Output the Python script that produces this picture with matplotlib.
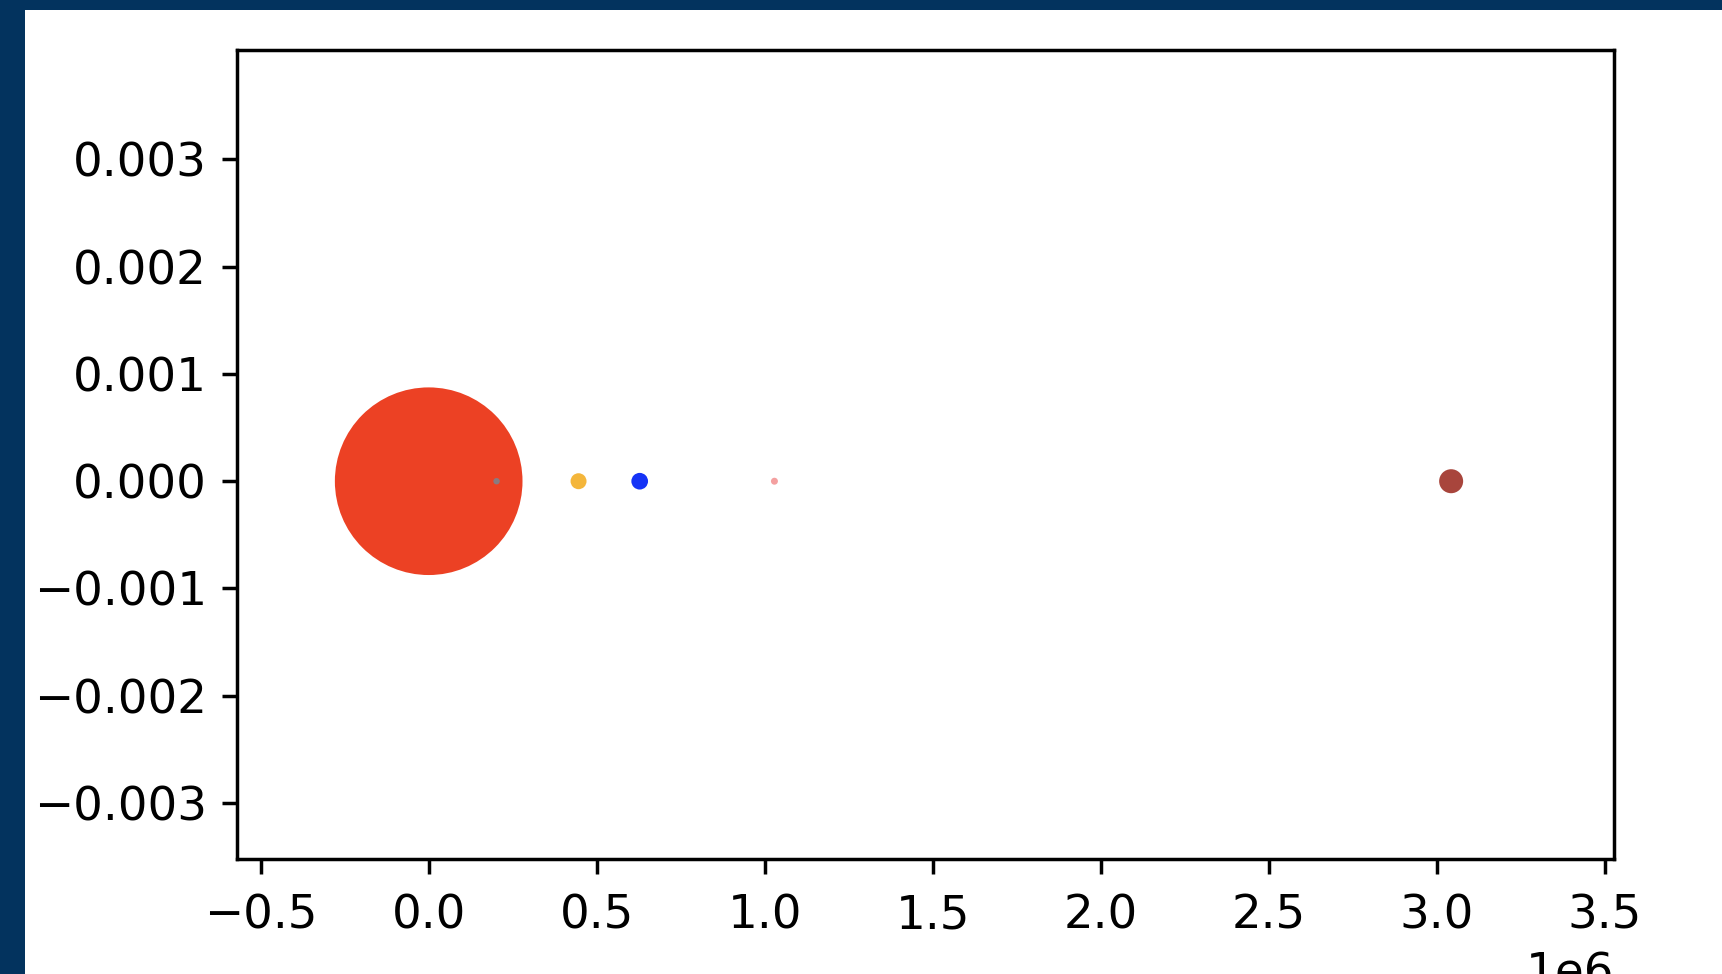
import numpy as np
import matplotlib
matplotlib.use('Agg')
import matplotlib.pyplot as plt
from matplotlib.patches import Rectangle

# bodies placed along the x axis (distance, in units of 1e6)
names = ['Sun', 'Mercury', 'Venus', 'Earth', 'Mars', 'Jupiter']
distance = [0.0, 0.202e6, 0.446e6, 0.628e6, 1.029e6, 3.043e6]
height = [0, 0, 0, 0, 0, 0]
marker_size = [1875, 2.2, 13.6, 14.8, 2.6, 30.7]
colours = ['#ec4124', '#8a7a80', '#f4b63b', '#1533f6', '#f4a0a0', '#a8453c']

plt.rcParams['font.size'] = 10.8

dpi = 312
fig = plt.figure(figsize=(1722 / dpi, 974 / dpi), dpi=dpi, facecolor='white')

# dark frame from the screenshot, top and left edges
navy = '#03335e'
fig.patches.append(Rectangle((0, 1 - 10 / 974), 1, 10 / 974, transform=fig.transFigure,
                             facecolor=navy, edgecolor='none', zorder=10))
fig.patches.append(Rectangle((0, 0), 25 / 1722, 1, transform=fig.transFigure,
                             facecolor=navy, edgecolor='none', zorder=10))

ax = fig.add_axes([237.3 / 1722, 1 - 858.8 / 974, (1614.3 - 237.3) / 1722, (858.8 - 50) / 974])
ax.scatter(distance, height, s=marker_size, c=colours, linewidths=0)

ax.set_xlim(-0.5696e6, 3.5286e6)
ax.set_ylim(-0.00352, 0.00402)
ax.set_yticks([-0.003, -0.002, -0.001, 0.0, 0.001, 0.002, 0.003])
ax.tick_params(axis='x', pad=4.5)

fig.savefig('out.png', dpi=dpi)
